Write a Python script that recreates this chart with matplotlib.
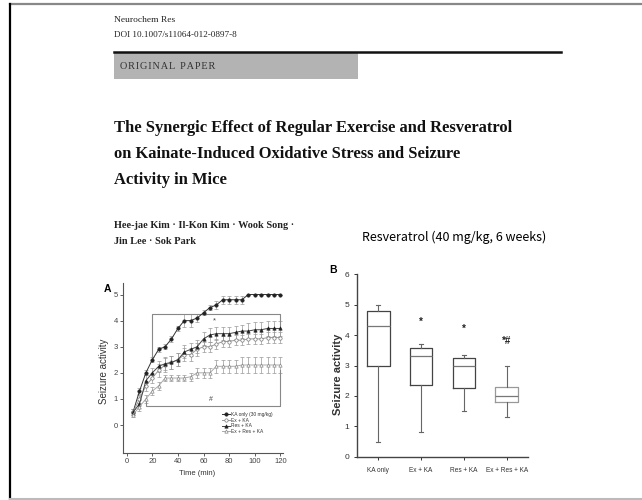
import matplotlib.pyplot as plt
from matplotlib.lines import Line2D
from matplotlib.patches import Rectangle

W, H = 642, 500

# ---- panel A: seizure score over time ----
time = [5, 10, 15, 20, 25, 30, 35, 40, 45, 50, 55, 60, 65, 70, 75, 80, 85, 90, 95, 100, 105, 110, 115, 120]
ka_only = [0.5, 1.3, 2.0, 2.5, 2.9, 3.0, 3.3, 3.7, 4.0, 4.0, 4.1, 4.3, 4.5, 4.6, 4.8, 4.8, 4.8, 4.8, 5.0, 5.0, 5.0, 5.0, 5.0, 5.0]
ka_only_err = [0.1, 0.12, 0.1, 0.1, 0.1, 0.1, 0.1, 0.1, 0.25, 0.25, 0.15, 0.1, 0.1, 0.15, 0.15, 0.15, 0.15, 0.15, 0, 0, 0, 0, 0, 0]
ex_ka = [0.5, 1.0, 1.5, 1.8, 2.1, 2.3, 2.4, 2.5, 2.7, 2.7, 2.9, 3.0, 3.0, 3.1, 3.2, 3.2, 3.25, 3.25, 3.3, 3.3, 3.3, 3.35, 3.35, 3.35]
ex_ka_err = [0.1, 0.15, 0.2, 0.2, 0.25, 0.25, 0.25, 0.25, 0.25, 0.25, 0.25, 0.2, 0.2, 0.2, 0.2, 0.2, 0.2, 0.2, 0.2, 0.2, 0.2, 0.2, 0.2, 0.2]
res_ka = [0.5, 0.8, 1.7, 2.0, 2.25, 2.35, 2.4, 2.5, 2.8, 2.9, 3.0, 3.3, 3.45, 3.5, 3.5, 3.5, 3.55, 3.6, 3.6, 3.65, 3.65, 3.7, 3.7, 3.7]
res_ka_err = [0.1, 0.15, 0.2, 0.2, 0.2, 0.25, 0.25, 0.25, 0.25, 0.25, 0.25, 0.25, 0.25, 0.25, 0.25, 0.25, 0.25, 0.25, 0.3, 0.3, 0.3, 0.3, 0.3, 0.3]
ex_res_ka = [0.4, 0.7, 1.0, 1.3, 1.5, 1.8, 1.8, 1.8, 1.8, 1.85, 2.0, 2.0, 2.0, 2.25, 2.25, 2.25, 2.25, 2.3, 2.3, 2.3, 2.3, 2.3, 2.3, 2.3]
ex_res_ka_err = [0.1, 0.15, 0.15, 0.15, 0.15, 0.1, 0.1, 0.1, 0.1, 0.15, 0.2, 0.2, 0.2, 0.25, 0.25, 0.25, 0.25, 0.3, 0.3, 0.3, 0.3, 0.3, 0.3, 0.3]
legend_labels = ['KA only (30 mg/kg)', 'Ex + KA', 'Res + KA', 'Ex + Res + KA']

# significance brackets
star_bracket_x = [20, 20, 120, 120]
star_bracket_y = [2.55, 4.26, 4.26, 3.8]
hash_bracket_x = [15, 15, 120, 120]
hash_bracket_y = [1.02, 0.73, 0.73, 2.1]

# ---- panel B: box plot ----
groups = ['KA only', 'Ex + KA', 'Res + KA', 'Ex + Res + KA']
whislo = [0.5, 0.8, 1.5, 1.3]
q1 = [3.0, 2.35, 2.25, 1.8]
med = [4.3, 3.3, 3.0, 2.0]
q3 = [4.8, 3.58, 3.25, 2.3]
whishi = [5.0, 3.7, 3.35, 3.0]
sig_marks = ['', '*', '*', '*#']
sig_y = [0, 4.45, 4.2, 3.8]


def fx(px):
    return px / W


def fy(py):
    return 1 - py / H


plt.rcParams['font.family'] = ['Liberation Sans', 'DejaVu Sans']

fig = plt.figure(figsize=(6.42, 5.0), dpi=100)
fig.patch.set_facecolor('white')

# page frame
fig.add_artist(Line2D([fx(10), 1], [fy(4), fy(4)], color='#888888', lw=1.6))
fig.add_artist(Line2D([fx(10.5), fx(10.5)], [fy(4), fy(499)], color='black', lw=1.6))
fig.add_artist(Line2D([fx(10), 1], [fy(498.5), fy(498.5)], color='#bbbbbb', lw=1.5))

# header of the paper
serif = 'Liberation Serif'
fig.text(fx(114.5), fy(19.5), 'Neurochem Res', family=serif, fontsize=6.8, va='center', color='#222')
fig.text(fx(114.5), fy(35), 'DOI 10.1007/s11064-012-0897-8', family=serif, fontsize=6.6, va='center', color='#222')
fig.add_artist(Line2D([fx(114), fx(560.5)], [fy(51.7), fy(51.7)], color='#111', lw=1.8))
fig.add_artist(Rectangle((fx(114), fy(79.3)), fx(357.8 - 114), (79.3 - 53.3) / H,
                         facecolor='#b3b3b3', edgecolor='none'))
banner = '\u200a'.join('ORIGINAL') + '  ' + '\u200a'.join('PAPER')
fig.text(fx(119.7), fy(66.7), banner, family=serif, fontsize=7.4, va='center', color='#333')
title_lines = ['The Synergic Effect of Regular Exercise and Resveratrol',
               'on Kainate-Induced Oxidative Stress and Seizure',
               'Activity in Mice']
for i, t in enumerate(title_lines):
    fig.text(fx(114.5), fy(128.3 + 25.9 * i), t, family=serif, fontsize=11.9,
             fontweight='bold', va='center', color='#111')
fig.text(fx(114.5), fy(225), 'Hee-jae Kim \u00b7 Il-Kon Kim \u00b7 Wook Song \u00b7', family=serif,
         fontsize=7.4, fontweight='bold', va='center', color='#222')
fig.text(fx(114.5), fy(241.7), 'Jin Lee \u00b7 Sok Park', family=serif,
         fontsize=7.4, fontweight='bold', va='center', color='#222')
fig.text(fx(362), fy(237), 'Resveratrol (40 mg/kg, 6 weeks)', family='Noto Sans CJK KR',
         fontsize=9.0, va='center', color='black')

# ---- panel A ----
ax1 = fig.add_axes([fx(122.7), fy(452.7), (283.3 - 122.7) / W, (452.7 - 283.3) / H])
series = [
    (ka_only, ka_only_err, 'o', '#222222', '#222222', '#333333'),
    (ex_ka, ex_ka_err, 'o', 'white', '#777777', '#999999'),
    (res_ka, res_ka_err, '^', '#222222', '#222222', '#444444'),
    (ex_res_ka, ex_res_ka_err, '^', 'white', '#888888', '#aaaaaa'),
]
handles = []
for vals, err, mk, mfc, mec, lc in series:
    c = ax1.errorbar(time, vals, yerr=err, fmt='-' + mk, color=lc, mfc=mfc, mec=mec,
                     ms=2.4, mew=0.5, lw=0.7, ecolor='#999999', elinewidth=0.5,
                     capsize=1.2, capthick=0.5)
    handles.append(c.lines[0])
ax1.plot(star_bracket_x, star_bracket_y, color='#888888', lw=0.8)
ax1.plot(hash_bracket_x, hash_bracket_y, color='#888888', lw=0.8)
ax1.text(68.5, 4.0, '*', fontsize=5.5, ha='center', va='center', color='#444')
ax1.text(66, 0.96, '#', fontsize=5, ha='center', va='center', color='#444')
ax1.set_xlim(-3.1, 122.3)
ax1.set_ylim(-1.06, 5.43)
ax1.set_xticks([0, 20, 40, 60, 80, 100, 120])
ax1.set_yticks([0, 1, 2, 3, 4, 5])
for s in ['top', 'right']:
    ax1.spines[s].set_visible(False)
for s in ['left', 'bottom']:
    ax1.spines[s].set_color('#555555')
    ax1.spines[s].set_linewidth(0.8)
ax1.tick_params(labelsize=5.5, colors='#444444', length=2, width=0.6, pad=1.5)
ax1.set_xlabel('Time (min)', fontsize=5.5, color='#333333')
ax1.xaxis.set_label_coords(0.463, -0.102)
ax1.set_ylabel('Seizure activity', fontsize=7, color='#333333')
ax1.yaxis.set_label_coords(-0.088, 0.482)
ax1.legend(handles, legend_labels, loc='upper left', bbox_to_anchor=(fx(222), fy(412)),
           bbox_transform=fig.transFigure, frameon=False, fontsize=3.5,
           handlelength=1.6, handletextpad=0.3, labelspacing=0.15,
           borderpad=0, borderaxespad=0, labelcolor='#333333')
fig.text(fx(107.7), fy(289), 'A', fontsize=7.5, fontweight='bold', ha='center', va='center')

# ---- panel B ----
ax2 = fig.add_axes([fx(356.7), fy(456.7), (528.3 - 356.7) / W, (456.7 - 274.3) / H])
stats = [dict(whislo=a, q1=b, med=c, q3=d, whishi=e, label=g)
         for a, b, c, d, e, g in zip(whislo, q1, med, q3, whishi, groups)]
bp = ax2.bxp(stats, positions=[1, 2, 3, 4], widths=0.53, showfliers=False,
             boxprops=dict(color='#444444', lw=0.9),
             medianprops=dict(color='#777777', lw=0.9),
             whiskerprops=dict(color='#666666', lw=0.8),
             capprops=dict(color='#666666', lw=0.8), capwidths=0.1)
bp['boxes'][3].set_color('#999999')
for pos, m, yv in zip([1, 2, 3, 4], sig_marks, sig_y):
    if m:
        ax2.text(pos, yv, m, fontsize=7, fontweight='bold', ha='center', va='center', color='#222')
ax2.set_xlim(0.5, 4.5)
ax2.set_ylim(0, 6)
ax2.set_yticks([0, 1, 2, 3, 4, 5, 6])
for s in ['top', 'right']:
    ax2.spines[s].set_visible(False)
for s in ['left', 'bottom']:
    ax2.spines[s].set_color('#444444')
    ax2.spines[s].set_linewidth(1.0)
ax2.tick_params(axis='y', labelsize=6, colors='#333333', length=2.5, width=0.7, pad=3)
ax2.tick_params(axis='x', labelsize=4.7, colors='#333333', length=2.5, width=0.7, pad=5)
ax2.set_ylabel('Seizure activity', fontsize=8, fontweight='bold', color='#333333')
ax2.yaxis.set_label_coords(-0.077, 0.453)
fig.text(fx(333), fy(270), 'B', fontsize=7.5, fontweight='bold', ha='center', va='center')

fig.savefig('out.png', dpi=100)
